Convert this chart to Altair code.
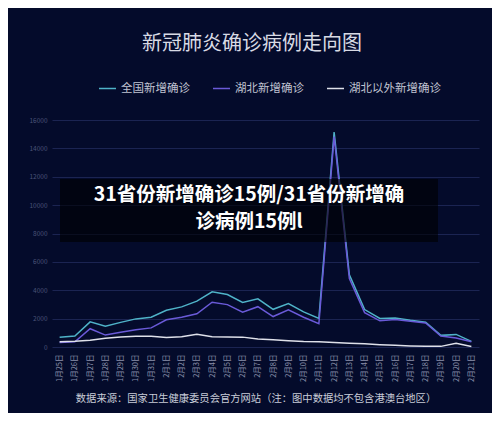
import altair as alt
import pandas as pd

dates = ["1月25日", "1月26日", "1月27日", "1月28日", "1月29日", "1月30日", "1月31日",
         "2月1日", "2月2日", "2月3日", "2月4日", "2月5日", "2月6日", "2月7日",
         "2月8日", "2月9日", "2月10日", "2月11日", "2月12日", "2月13日", "2月14日",
         "2月15日", "2月16日", "2月17日", "2月18日", "2月19日", "2月20日", "2月21日"]
national = [688, 769, 1771, 1459, 1737, 1982, 2102, 2590, 2829, 3235, 3887, 3694, 3143, 3399,
            2656, 3062, 2478, 2015, 15152, 5090, 2641, 2008, 2048, 1886, 1749, 820, 889, 397]
hubei = [323, 371, 1291, 840, 1032, 1220, 1347, 1921, 2103, 2345, 3156, 2987, 2447, 2841,
         2147, 2618, 2097, 1638, 14840, 4823, 2420, 1843, 1933, 1807, 1693, 775, 631, 366]
outside = [365, 398, 480, 619, 705, 762, 755, 669, 726, 890, 731, 707, 696, 558,
           509, 444, 381, 377, 312, 267, 221, 165, 115, 79, 56, 45, 258, 31]
series_names = ["全国新增确诊", "湖北新增确诊", "湖北以外新增确诊"]
series_colors = ["#4fb3c8", "#6a5ad8", "#dfe1ea"]
y_ticks = [0, 2000, 4000, 6000, 8000, 10000, 12000, 14000, 16000]

title_text = "新冠肺炎确诊病例走向图"
source_text = "数据来源：国家卫生健康委员会官方网站（注：图中数据均不包含港澳台地区）"
overlay_line1 = "31省份新增确诊15例/31省份新增确"
overlay_line2 = "诊病例15例l"

rows = []
for name, vals in zip(series_names, [national, hubei, outside]):
    for d, v in zip(dates, vals):
        rows.append({"date": d, "series": name, "value": v})
df = pd.DataFrame(rows)

FONT = "Noto Sans CJK SC"
BG = "#040b2b"

lines = alt.Chart(df).mark_line(strokeWidth=1.5).encode(
    x=alt.X("date:O", sort=dates,
            scale=alt.Scale(type="point", padding=0.5),
            axis=alt.Axis(title=None, labelAngle=270, labelFontSize=7.5, labelFont=FONT,
                          labelColor="#8a90aa", labelPadding=7, ticks=False, domain=False,
                          grid=False)),
    y=alt.Y("value:Q", scale=alt.Scale(domain=[0, 16000], nice=False),
            axis=alt.Axis(title=None, values=y_ticks, format="d", labelFontSize=6.5,
                          labelFont=FONT, labelColor="#4b5378", labelPadding=5, ticks=False,
                          domain=False, grid=True, gridColor="#1b2452", gridWidth=1)),
    color=alt.Color("series:N", sort=series_names,
                    scale=alt.Scale(domain=series_names, range=series_colors),
                    legend=alt.Legend(title=None, orient="none", legendX=46, legendY=-41,
                                      direction="horizontal", symbolType="stroke",
                                      symbolSize=289, symbolStrokeWidth=1.5,
                                      labelFontSize=11.5, labelFont=FONT,
                                      labelColor="#c0c4d2", columnPadding=20,
                                      labelOffset=4, padding=0)),
)

one = pd.DataFrame({"a": [0]})

box = alt.Chart(one).mark_rect(color="black", opacity=0.6).encode(
    x=alt.value(8), x2=alt.value(386), y=alt.value(59), y2=alt.value(122))

ov1 = alt.Chart(pd.DataFrame({"t": [overlay_line1]})).mark_text(
    font=FONT, fontSize=19.5, fontWeight="bold", color="white", align="center",
    baseline="middle").encode(text="t:N", x=alt.value(197), y=alt.value(75))
ov2 = alt.Chart(pd.DataFrame({"t": [overlay_line2]})).mark_text(
    font=FONT, fontSize=19.5, fontWeight="bold", color="white", align="center",
    baseline="middle").encode(text="t:N", x=alt.value(197), y=alt.value(102))

title = alt.Chart(pd.DataFrame({"t": [title_text]})).mark_text(
    font=FONT, fontSize=20, color="#d8dae4", align="center",
    baseline="middle").encode(text="t:N", x=alt.value(200), y=alt.value(-76))

source = alt.Chart(pd.DataFrame({"t": [source_text]})).mark_text(
    font=FONT, fontSize=10.3, color="#c8ccd8", align="center",
    baseline="middle").encode(text="t:N", x=alt.value(204), y=alt.value(279))

chart = alt.layer(lines, box, ov1, ov2, title, source).properties(
    width=427, height=227,
    autosize=alt.AutoSizeParams(type="none"),
    padding={"left": 44, "top": 112, "right": 13, "bottom": 66},
    background=BG,
).configure_view(stroke=None)

chart.save("out.html", embed_options={"renderer": "svg", "actions": False})
